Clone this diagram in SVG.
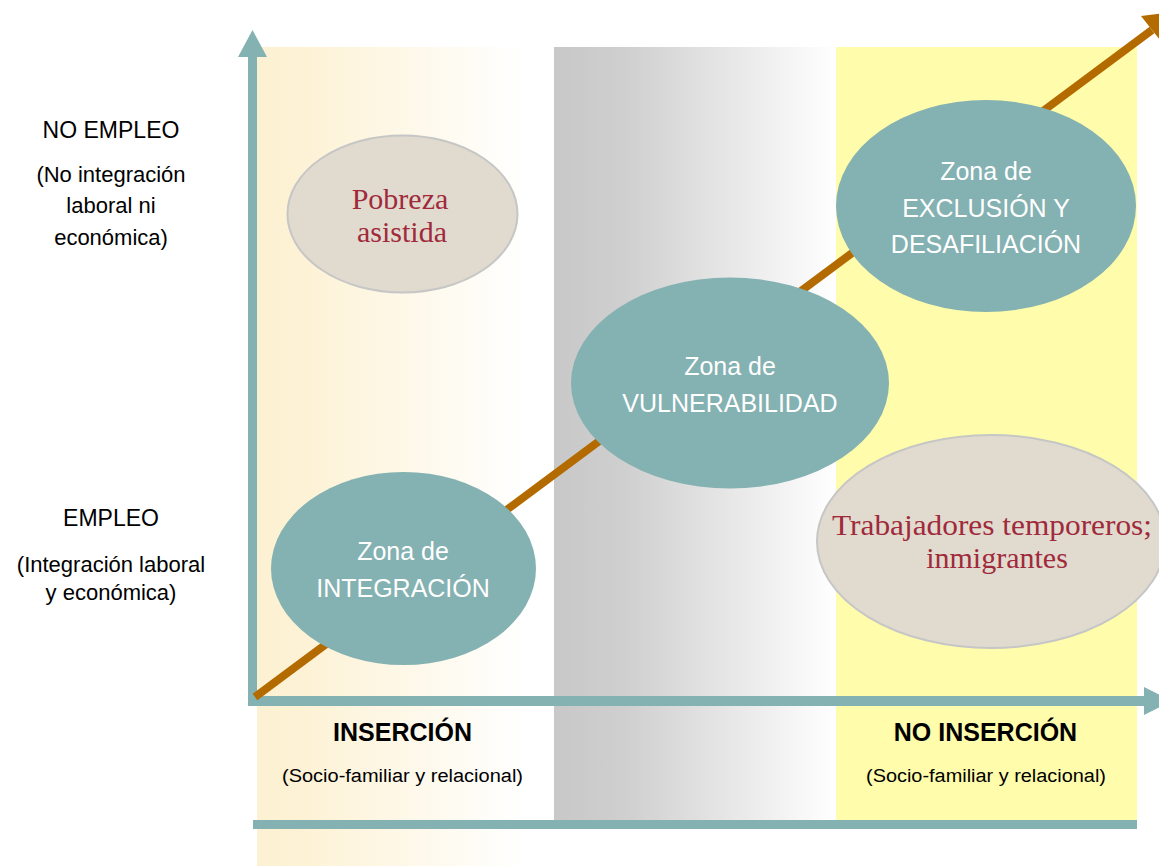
<svg xmlns="http://www.w3.org/2000/svg" width="1159" height="866" viewBox="0 0 1159 866">
  <defs>
    <linearGradient id="gLeft" x1="0" y1="0" x2="1" y2="0">
      <stop offset="0" stop-color="#fdf1d3"/>
      <stop offset="0.15" stop-color="#fdf2d5"/>
      <stop offset="0.9" stop-color="#ffffff"/>
      <stop offset="1" stop-color="#ffffff"/>
    </linearGradient>
    <linearGradient id="gMid" x1="0" y1="0" x2="1" y2="0">
      <stop offset="0" stop-color="#c8c8c8"/>
      <stop offset="0.25" stop-color="#cfcfcf"/>
      <stop offset="1" stop-color="#ffffff"/>
    </linearGradient>
    <style>
      .teal { fill: #84b1b1; }
      .beige { fill: #e0dbce; stroke: #c6c6c6; stroke-width: 2; }
      .wt { font-family: "Liberation Sans", Arial, sans-serif; font-size: 25px; fill: #ffffff; text-anchor: middle; }
      .rt { font-family: "Liberation Serif", "Times New Roman", serif; font-size: 30px; fill: #a02a3c; text-anchor: middle; }
      .lt { font-family: "Liberation Sans", Arial, sans-serif; fill: #000000; text-anchor: middle; }
      .axis { stroke: #84b1b1; fill: none; }
    </style>
  </defs>

  <rect width="1159" height="866" fill="#ffffff"/>

  <!-- background bands -->
  <rect x="257" y="47" width="297" height="819" fill="url(#gLeft)"/>
  <rect x="554" y="47" width="282" height="782" fill="url(#gMid)"/>
  <rect x="836" y="47" width="301" height="778" fill="#fffdab"/>

  <!-- connectors / axes -->
  <g id="connectors">
    <line class="axis" x1="253" y1="824.5" x2="1137" y2="824.5" stroke-width="9"/>
    <line class="axis" x1="252.5" y1="55" x2="252.5" y2="706" stroke-width="9"/>
    <polygon class="teal" points="238,57 267,57 252.5,30"/>
    <line class="axis" x1="248" y1="701" x2="1146" y2="701" stroke-width="10"/>
    <polygon class="teal" points="1144,687 1144,715 1172,701"/>
    <line x1="255" y1="697" x2="1152" y2="30" stroke="#b36b00" stroke-width="8"/>
    <polygon fill="#b36b00" points="1141,16 1160,40 1172,12"/>
  </g>

  <!-- nodes -->
  <g id="pobreza">
    <ellipse class="beige" cx="402.5" cy="214" rx="115" ry="78.5"/>
    <text class="rt" x="400" y="209">Pobreza</text>
    <text class="rt" x="402" y="242">asistida</text>
  </g>

  <g id="exclusion">
    <ellipse class="teal" cx="986" cy="206" rx="150" ry="106"/>
    <text class="wt" x="986" y="180">Zona de</text>
    <text class="wt" x="986" y="217">EXCLUSIÓN Y</text>
    <text class="wt" x="986" y="253">DESAFILIACIÓN</text>
  </g>

  <g id="vulnerabilidad">
    <ellipse class="teal" cx="730" cy="383" rx="159" ry="105.5"/>
    <text class="wt" x="730" y="375">Zona de</text>
    <text class="wt" x="730" y="412">VULNERABILIDAD</text>
  </g>

  <g id="integracion">
    <ellipse class="teal" cx="403.5" cy="568.5" rx="132.5" ry="96.5"/>
    <text class="wt" x="403" y="560">Zona de</text>
    <text class="wt" x="403" y="597">INTEGRACIÓN</text>
  </g>

  <g id="trabajadores">
    <ellipse class="beige" cx="991" cy="541.5" rx="174" ry="106.5"/>
    <text class="rt" x="992" y="535" font-size="31" textLength="320" lengthAdjust="spacingAndGlyphs">Trabajadores temporeros;</text>
    <text class="rt" x="997" y="568" font-size="31">inmigrantes</text>
  </g>

  <!-- axis labels -->
  <g id="label-no-empleo">
    <text class="lt" x="111" y="138" font-size="23">NO EMPLEO</text>
    <text class="lt" x="111" y="182" font-size="22">(No integración</text>
    <text class="lt" x="111" y="213" font-size="22">laboral ni</text>
    <text class="lt" x="111" y="245" font-size="22">económica)</text>
  </g>
  <g id="label-empleo">
    <text class="lt" x="111" y="526" font-size="23">EMPLEO</text>
    <text class="lt" x="111" y="572" font-size="22">(Integración laboral</text>
    <text class="lt" x="111" y="600" font-size="22">y económica)</text>
  </g>
  <g id="label-insercion">
    <text class="lt" x="402.5" y="741" font-size="25" font-weight="bold">INSERCIÓN</text>
    <text class="lt" x="402.5" y="782" font-size="18" textLength="241" lengthAdjust="spacingAndGlyphs">(Socio-familiar y relacional)</text>
  </g>
  <g id="label-no-insercion">
    <text class="lt" x="985.5" y="741" font-size="25" font-weight="bold">NO INSERCIÓN</text>
    <text class="lt" x="986" y="782" font-size="18" textLength="240" lengthAdjust="spacingAndGlyphs">(Socio-familiar y relacional)</text>
  </g>
</svg>
